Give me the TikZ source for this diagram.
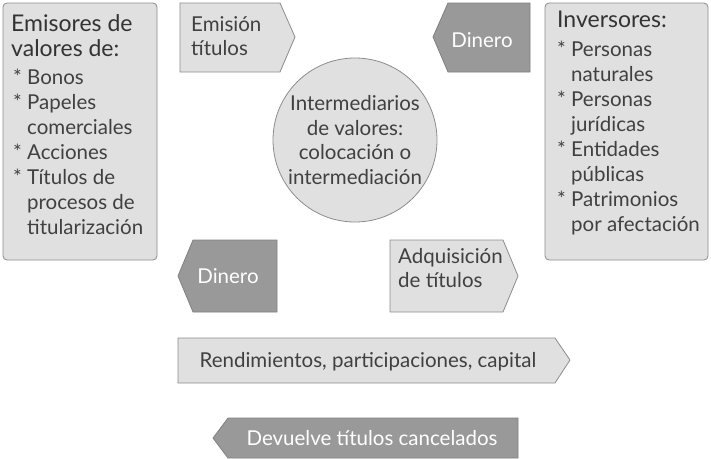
\documentclass[tikz,border=0pt]{standalone}
\usepackage{fontspec}
\setmainfont{Lato}
\begin{document}
\begin{tikzpicture}[x=1pt,y=-1pt,
 lt/.style={fill=black!12,draw=black!45,line width=0.8pt},
 dk/.style={fill=black!40,draw=black!50,line width=0.8pt},
 tx/.style={text=black!75,font=\fontsize{20.5}{24.5}\selectfont,align=left},
 hd/.style={text=black!80,font=\fontsize{23}{25}\selectfont,align=left,anchor=north west,inner sep=0pt},
 ls/.style={text=black!75,font=\fontsize{20.5}{25}\selectfont,align=left,anchor=north west,inner sep=0pt},
 wt/.style={text=white,font=\fontsize{20.5}{24}\selectfont}]
\useasboundingbox (0,0) rectangle (711,458);
% boxes
\draw[lt,rounded corners=4pt] (3,3) rectangle (157,260);
\draw[lt,rounded corners=4pt] (545,3) rectangle (708,260);
\node[hd] (em) at (11,14) {Emisores de\\valores de:};
\node[ls] (emi) at (13,69) {* Bonos\\
* Papeles\\ \hphantom{* }comerciales\\* Acciones\\* Títulos de\\ \hphantom{* }procesos de\\ \hphantom{* }titularización};
\node[hd] (inv) at (557,11) {Inversores:};
\node[ls] (invi) at (557,41) {* Personas\\ \hphantom{* }naturales\\* Personas\\ \hphantom{* }jurídicas\\* Entidades\\ \hphantom{* }públicas\\* Patrimonios\\ \hphantom{* }por afectación};
% circle
\node[circle,lt,minimum size=164pt,tx,align=center,inner sep=0pt] (c) at (355,140) {Intermediarios\\de valores:\\colocación o\\intermediación};
% arrows
\draw[lt] (180,3)--(280,3)--(295,37)--(280,72)--(180,72)--cycle;
\node[tx,anchor=north west,inner sep=0pt] (e) at (191,16) {Emisión\\títulos};
\draw[dk] (530,3)--(448,3)--(433,37)--(448,72)--(530,72)--cycle;
\node[wt] (d1) at (482,40) {Dinero};
\draw[dk] (277,240)--(193,240)--(178,276)--(193,312)--(277,312)--cycle;
\node[wt] (d2) at (228,276) {Dinero};
\draw[lt] (390,240)--(503,240)--(518,276)--(503,312)--(390,312)--cycle;
\node[tx,anchor=north west,inner sep=0pt] (a) at (398,248) {Adquisición\\de títulos};
\draw[lt] (178,338)--(555,338)--(570,360)--(555,383)--(178,383)--cycle;
\node[tx] (r) at (368,362) {Rendimientos, participaciones, capital};
\draw[dk] (518,418)--(228,418)--(213,438)--(228,458)--(518,458)--cycle;
\node[wt] (dv) at (372,438) {Devuelve títulos cancelados};
\end{tikzpicture}
\end{document}
